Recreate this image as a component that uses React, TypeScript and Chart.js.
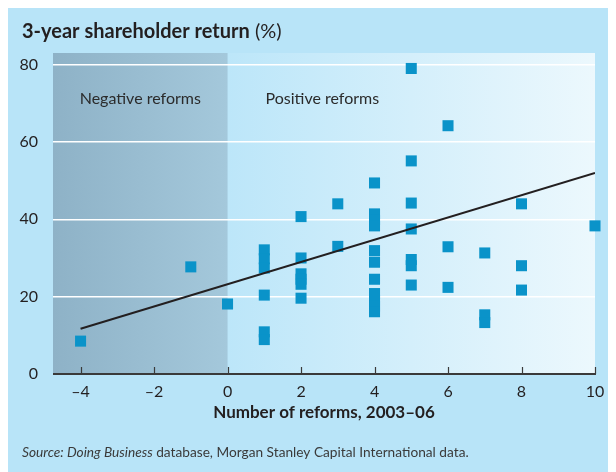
import React, { useEffect, useRef } from "react";
import { Chart, registerables } from "chart.js";

Chart.register(...registerables);

const pointX: number[] = [
  -4, -1, 0,
  1, 1, 1, 1, 1, 1,
  2, 2, 2, 2, 2, 2,
  3, 3,
  4, 4, 4, 4, 4, 4, 4, 4, 4, 4, 4,
  5, 5, 5, 5, 5, 5, 5,
  6, 6, 6,
  7, 7, 7,
  8, 8, 8,
  10,
];
const pointY: number[] = [
  8.5, 27.7, 18.1,
  32.1, 29.8, 27.4, 20.4, 10.9, 8.9,
  40.7, 30.0, 25.9, 24.5, 23.2, 19.6,
  44.0, 33.0,
  49.4, 41.4, 39.8, 38.3, 31.9, 28.9, 24.5, 20.8, 19.0, 17.5, 16.1,
  79.0, 55.1, 44.2, 37.5, 29.6, 28.0, 23.0,
  64.2, 32.9, 22.4,
  31.3, 15.3, 13.3,
  44.0, 28.0, 21.7,
  38.3,
];
const trendX: number[] = [-4, 10];
const trendY: number[] = [11.7, 52];
const xTicks: number[] = [-4, -2, 0, 2, 4, 6, 8, 10];
const yTicks: number[] = [0, 20, 40, 60, 80];

const FONT = "Lato, 'Open Sans', sans-serif";
const TEXT = "#231f20";

const decorPlugin = {
  id: "decor",
  beforeDraw(chart: any) {
    const { ctx, chartArea: a, scales } = chart;
    const xs = scales.x;
    ctx.save();
    ctx.fillStyle = "#b8e4f8";
    ctx.fillRect(0, 0, chart.width, chart.height);
    const x0 = xs.getPixelForValue(0);
    const gp = ctx.createLinearGradient(x0, 0, a.right, 0);
    gp.addColorStop(0, "#bce6f9");
    gp.addColorStop(1, "#ecf8fd");
    ctx.fillStyle = gp;
    ctx.fillRect(x0, a.top, a.right - x0, a.bottom - a.top);
    const gn = ctx.createLinearGradient(a.left, 0, x0, 0);
    gn.addColorStop(0, "#8eb2c7");
    gn.addColorStop(1, "#a4c8db");
    ctx.fillStyle = gn;
    ctx.fillRect(a.left, a.top, x0 - a.left, a.bottom - a.top);
    ctx.restore();
  },
  beforeDatasetsDraw(chart: any) {
    const { ctx, chartArea: a, scales } = chart;
    const xs = scales.x;
    ctx.save();
    ctx.strokeStyle = "#3a3a3a";
    ctx.lineWidth = 2;
    ctx.beginPath();
    ctx.moveTo(a.left, a.bottom);
    ctx.lineTo(a.right + 1, a.bottom);
    ctx.stroke();
    ctx.lineWidth = 1.2;
    for (const v of xTicks) {
      const px = Math.round(xs.getPixelForValue(v)) + 0.5;
      ctx.beginPath();
      ctx.moveTo(px, a.bottom);
      ctx.lineTo(px, a.bottom - 7);
      ctx.stroke();
    }
    ctx.restore();
  },
  afterDraw(chart: any) {
    const { ctx, scales } = chart;
    const xs = scales.x;
    const ys = scales.y;
    ctx.save();
    ctx.fillStyle = "#2b2b2b";
    ctx.font = `16px ${FONT}`;
    ctx.textAlign = "center";
    ctx.textBaseline = "middle";
    ctx.fillText("Negative reforms", xs.getPixelForValue(-2.375), ys.getPixelForValue(71.2));
    ctx.fillText("Positive reforms", xs.getPixelForValue(2.58), ys.getPixelForValue(71.2));
    ctx.textAlign = "left";
    ctx.textBaseline = "alphabetic";
    ctx.fillStyle = TEXT;
    ctx.font = `bold 20px ${FONT}`;
    const t1 = "3-year shareholder return";
    ctx.fillText(t1, 14, 30);
    const w1 = ctx.measureText(t1).width;
    ctx.font = `20px ${FONT}`;
    ctx.fillText(" (%)", 14 + w1, 30);
    ctx.fillStyle = "#3a3a3a";
    ctx.font = `italic 13.7px ${FONT}`;
    const s1 = "Source: Doing Business";
    ctx.fillText(s1, 14, 449);
    const sw = ctx.measureText(s1).width;
    ctx.font = `13.7px ${FONT}`;
    ctx.fillText(" database, Morgan Stanley Capital International data.", 14 + sw, 449);
    ctx.restore();
  },
};

export default function App() {
  const ref = useRef<HTMLCanvasElement>(null);
  useEffect(() => {
    if (!ref.current) return;
    const chart = new Chart(ref.current, {
      type: "scatter",
      data: {
        datasets: [
          {
            type: "line",
            label: "Trend",
            data: trendX.map((x, i) => ({ x, y: trendY[i] })),
            borderColor: TEXT,
            borderWidth: 2,
            pointRadius: 0,
            fill: false,
          } as any,
          {
            label: "Countries",
            data: pointX.map((x, i) => ({ x, y: pointY[i] })),
            pointStyle: "rect",
            pointRadius: 7.8,
            backgroundColor: "#0a93c9",
            borderWidth: 0,
            clip: false,
          } as any,
        ],
      },
      options: {
        animation: false,
        responsive: false,
        maintainAspectRatio: false,
        layout: { padding: { left: 0, right: 21, top: 45, bottom: 36 } },
        plugins: {
          legend: { display: false },
          tooltip: { enabled: false },
        },
        scales: {
          x: {
            type: "linear",
            min: -4.75,
            max: 10,
            afterBuildTicks: (s: any) => {
              s.ticks = xTicks.map((v) => ({ value: v }));
            },
            afterFit: (s: any) => {
              s.height = 62;
            },
            grid: { display: false, drawTicks: false },
            border: { display: false },
            ticks: {
              padding: 8,
              color: TEXT,
              font: { family: FONT, size: 16 },
              maxRotation: 0,
              callback: (v: any) => (Number(v) < 0 ? "\u2013" + Math.abs(Number(v)) : String(v)),
            },
            title: {
              display: true,
              text: "Number of reforms, 2003\u201306",
              color: TEXT,
              font: { family: FONT, size: 17, weight: "bold" },
              padding: { top: 0, bottom: 13 },
            },
          },
          y: {
            min: 0,
            max: 83,
            afterBuildTicks: (s: any) => {
              s.ticks = yTicks.map((v) => ({ value: v }));
            },
            afterFit: (s: any) => {
              s.width = 45;
            },
            grid: {
              color: (c: any) => (c.tick && c.tick.value === 0 ? "rgba(0,0,0,0)" : "#ffffff"),
              lineWidth: 1.5,
              drawTicks: false,
            },
            border: { display: false },
            ticks: {
              padding: 15,
              color: TEXT,
              font: { family: FONT, size: 16 },
            },
          },
        },
      },
      plugins: [decorPlugin],
    });
    return () => chart.destroy();
  }, []);
  return (
    <div style={{ width: 608, height: 464 }}>
      <canvas ref={ref} width={608} height={464} style={{ display: "block", width: 608, height: 464 }} />
    </div>
  );
}
